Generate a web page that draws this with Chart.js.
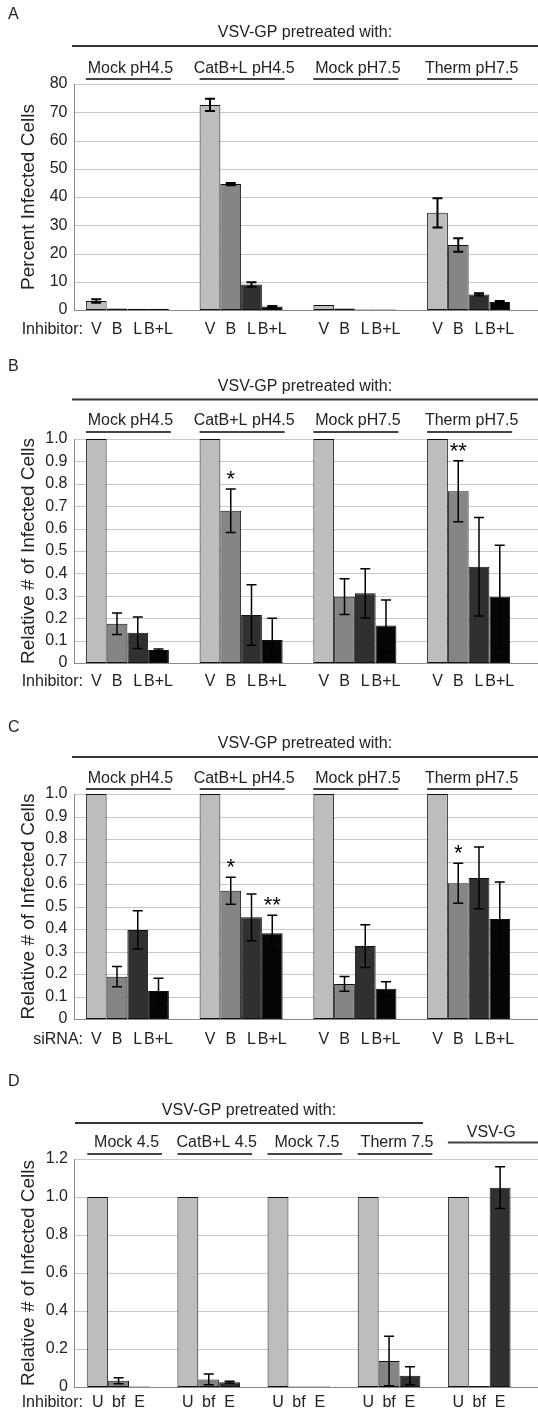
<!DOCTYPE html>
<html>
<head>
<meta charset="utf-8">
<script src="https://cdn.jsdelivr.net/npm/chart.js@4"></script>
<style>
body{margin:0;background:#fff;width:538px;height:1413px;overflow:hidden}
canvas{position:absolute;left:0}
</style>
</head>
<body>
<canvas id="chartA" width="538" height="350" style="top:0px"></canvas>
<canvas id="chartB" width="538" height="350" style="top:350px"></canvas>
<canvas id="chartC" width="538" height="360" style="top:700px"></canvas>
<canvas id="chartD" width="538" height="353" style="top:1060px"></canvas>
<script>
const groupsABC=["Mock pH4.5","CatB+L pH4.5","Mock pH7.5","Therm pH7.5"]
const seriesABC=["V","B","L","B+L"]
const groupsD=["Mock 4.5","CatB+L 4.5","Mock 7.5","Therm 7.5","VSV-G"]
const seriesD=["U","bf","E"]

// A: percent infected cells
const aV=[3.2,72.6,1.8,34.4]
const aB=[0.5,44.6,0.5,23.0]
const aL=[0.4,9.0,0.15,5.5]
const aBL=[0.4,1.2,0.15,2.8]
const aVerr=[0.6,2.2,0,5.2]
const aBerr=[0,0.4,0,2.4]
const aLerr=[0,0.8,0,0.4]
const aBLerr=[0,0.2,0,0.4]

// B: relative, inhibitors
const bV=[1,1,1,1]
const bB=[0.175,0.68,0.296,0.767]
const bL=[0.135,0.214,0.311,0.43]
const bBL=[0.058,0.103,0.167,0.296]
const bVerr=[0,0,0,0]
const bBerr=[0.048,0.097,0.08,0.136]
const bLerr=[0.07,0.135,0.11,0.22]
const bBLerr=[0.005,0.097,0.114,0.23]
const bBstars=["","*","","**"]

// C: relative, siRNA
const cV=[1,1,1,1]
const cB=[0.188,0.57,0.156,0.603]
const cL=[0.396,0.452,0.324,0.627]
const cBL=[0.124,0.381,0.135,0.444]
const cVerr=[0,0,0,0]
const cBerr=[0.045,0.06,0.033,0.089]
const cLerr=[0.085,0.104,0.095,0.137]
const cBLerr=[0.057,0.08,0.031,0.165]
const cBstars=["","*","","*"]
const cBLstars=["","**","",""]

// D: relative, bafilomycin / E64
const dU=[1,1,1,1,1]
const dBf=[0.033,0.04,0.002,0.137,0.005]
const dE=[0.002,0.025,0.002,0.059,1.049]
const dUerr=[0,0,0,0,0]
const dBferr=[0.016,0.028,0,0.13,0]
const dEerr=[0,0.005,0,0.047,0.11]

const FONT="'Liberation Sans', Arial, Helvetica, sans-serif"
const TXT="#222"
const barColors=["#bdbdbd","#858585","#303030","#050505"]

const deco={
id:"deco",
beforeDatasetsDraw(chart,args,o){
const ctx=chart.ctx
const y=chart.scales.y
const a=chart.chartArea
ctx.save()
ctx.lineWidth=1
y.ticks.forEach(t=>{
const py=Math.round(y.getPixelForValue(t.value))+0.5
ctx.strokeStyle=t.value===0?"#8a8a8a":"#c8c8c8"
ctx.beginPath()
ctx.moveTo(o.axisX,py)
ctx.lineTo(chart.width,py)
ctx.stroke()
})
ctx.strokeStyle="#8a8a8a"
ctx.beginPath()
ctx.moveTo(o.axisX+0.5,Math.round(a.top))
ctx.lineTo(o.axisX+0.5,Math.round(a.bottom)+1)
ctx.stroke()
ctx.restore()
},
afterDatasetsDraw(chart,args,o){
const ctx=chart.ctx
const y=chart.scales.y
ctx.save()
ctx.strokeStyle="#000"
ctx.lineWidth=o.errWidth
chart.data.datasets.forEach((ds,i)=>{
const meta=chart.getDatasetMeta(i)
meta.data.forEach((bar,j)=>{
const v=ds.data[j]
const e=ds.err[j]
const x=bar.x
const top=y.getPixelForValue(v+e)
if(e>0){
const bot=y.getPixelForValue(Math.max(v-e,0))
ctx.beginPath()
ctx.moveTo(x,top)
ctx.lineTo(x,bot)
ctx.moveTo(x-5,top)
ctx.lineTo(x+5,top)
ctx.moveTo(x-5,bot)
ctx.lineTo(x+5,bot)
ctx.stroke()
}
if(ds.stars&&ds.stars[j]){
ctx.fillStyle="#000"
ctx.font="22px "+FONT
ctx.textAlign="center"
ctx.textBaseline="alphabetic"
ctx.fillText(ds.stars[j],x,top-3)
}
})
})
ctx.restore()
},
afterDraw(chart,args,o){
const ctx=chart.ctx
const a=chart.chartArea
const n=chart.data.datasets.length
const first=chart.getDatasetMeta(0).data
const last=chart.getDatasetMeta(n-1).data
ctx.save()
ctx.fillStyle=TXT
ctx.font="16px "+FONT
ctx.textBaseline="middle"

// panel letter
ctx.textAlign="left"
ctx.fillText(o.letter,8,o.letterY)

// top title + line
ctx.textAlign="center"
ctx.fillText(o.title,(o.lineX0+o.lineX1)/2,a.top+o.titleY)
ctx.strokeStyle="#333"
ctx.lineWidth=2
ctx.beginPath()
ctx.moveTo(o.lineX0,a.top+o.lineY)
ctx.lineTo(o.lineX1,a.top+o.lineY)
ctx.stroke()

// group labels with underlines
ctx.strokeStyle="#444"
chart.data.labels.forEach((g,j)=>{
const l=first[j].x-first[j].width/2
const r=last[j].x+last[j].width/2+o.ulExtra
if(j===o.tallGroup){
ctx.fillText(g,(l+r)/2+6,a.top+o.tallLabelY)
ctx.beginPath()
ctx.moveTo(l,a.top+o.tallLineY)
ctx.lineTo(chart.width,a.top+o.tallLineY)
ctx.stroke()
return
}
ctx.fillText(g,(l+r)/2+2,a.top+o.labelY)
ctx.beginPath()
ctx.moveTo(l,a.top+o.ulY)
ctx.lineTo(r,a.top+o.ulY)
ctx.stroke()
})

// row of per-bar labels
ctx.textAlign="right"
ctx.fillText(o.rowLabel,83,a.bottom+o.rowY)
ctx.textAlign="center"
chart.data.datasets.forEach((ds,i)=>{
chart.getDatasetMeta(i).data.forEach(bar=>{
ctx.fillText(ds.label,bar.x,a.bottom+o.rowY)
})
})
ctx.restore()
}
}

function makePanel(id,p){

const datasets=p.series.map((s,i)=>({
label:s,
data:p.values[i],
err:p.errors[i],
stars:p.stars?p.stars[i]:null,
backgroundColor:barColors[i],
borderColor:"#111",
borderWidth:1,
borderSkipped:false
}))

return new Chart(document.getElementById(id),{
type:"bar",
data:{labels:p.groups,datasets},
options:{
responsive:false,
animation:false,
events:[],
layout:{padding:{top:p.padTop,bottom:p.padBottom,left:0,right:p.padRight}},
datasets:{bar:{categoryPercentage:p.catPct,barPercentage:1}},
plugins:{
legend:{display:false},
tooltip:{enabled:false},
deco:p.deco
},
scales:{
x:{display:false},
y:{
min:0,
max:p.max,
afterFit(s){s.width=p.axisWidth},
grid:{display:false,drawTicks:false},
border:{display:false},
ticks:{
stepSize:p.step,
padding:p.tickPad,
color:TXT,
font:{family:FONT,size:16},
callback:v=>p.fmt(v)
},
title:{
display:true,
text:p.yTitle,
color:TXT,
font:{family:FONT,size:19},
padding:{top:17,bottom:0}
}
}
}
},
plugins:[deco]
})

}

const oneDec=v=>v===0?"0":v.toFixed(1)

makePanel("chartA",{
groups:groupsABC,series:seriesABC,
values:[aV,aB,aL,aBL],errors:[aVerr,aBerr,aLerr,aBLerr],
max:80,step:10,fmt:v=>String(Math.round(v)),
yTitle:"Percent Infected Cells",
padTop:84,padBottom:40,padRight:12.5,axisWidth:70.5,tickPad:3,catPct:0.73,
deco:{letter:"A",letterY:15,title:"VSV-GP pretreated with:",titleY:-51,lineY:-38,lineX0:72,lineX1:538,
labelY:-15.5,ulY:-5,ulExtra:2,tallGroup:-1,rowLabel:"Inhibitor:",rowY:19.5,axisX:74,errWidth:2}
})

makePanel("chartB",{
groups:groupsABC,series:seriesABC,
values:[bV,bB,bL,bBL],errors:[bVerr,bBerr,bLerr,bBLerr],
stars:[null,bBstars,null,null],
max:1,step:0.1,fmt:oneDec,
yTitle:"Relative # of Infected Cells",
padTop:89,padBottom:37,padRight:12.5,axisWidth:70.5,tickPad:3,catPct:0.73,
deco:{letter:"B",letterY:17,title:"VSV-GP pretreated with:",titleY:-52,lineY:-39.5,lineX0:72,lineX1:538,
labelY:-18,ulY:-7,ulExtra:2,tallGroup:-1,rowLabel:"Inhibitor:",rowY:19,axisX:74,errWidth:1.5}
})

makePanel("chartC",{
groups:groupsABC,series:seriesABC,
values:[cV,cB,cL,cBL],errors:[cVerr,cBerr,cLerr,cBLerr],
stars:[null,cBstars,null,cBLstars],
max:1,step:0.1,fmt:oneDec,
yTitle:"Relative # of Infected Cells",
padTop:94,padBottom:41,padRight:12.5,axisWidth:70.5,tickPad:3,catPct:0.73,
deco:{letter:"C",letterY:28,title:"VSV-GP pretreated with:",titleY:-50,lineY:-37,lineX0:72,lineX1:538,
labelY:-15,ulY:-5,ulExtra:2,tallGroup:-1,rowLabel:"siRNA:",rowY:21,axisX:74,errWidth:1.5}
})

makePanel("chartD",{
groups:groupsD,series:seriesD,
values:[dU,dBf,dE],errors:[dUerr,dBferr,dEerr],
max:1.2,step:0.2,fmt:oneDec,
yTitle:"Relative # of Infected Cells",
padTop:99,padBottom:26,padRight:13.7,axisWidth:73.5,tickPad:5.5,catPct:0.695,
deco:{letter:"D",letterY:22,title:"VSV-GP pretreated with:",titleY:-48,lineY:-36,lineX0:75,lineX1:423,
labelY:-16,ulY:-5,ulExtra:12,tallGroup:4,tallLabelY:-26.5,tallLineY:-16.5,rowLabel:"Inhibitor:",rowY:16,axisX:74,errWidth:1.5}
})
</script>
</body>
</html>
